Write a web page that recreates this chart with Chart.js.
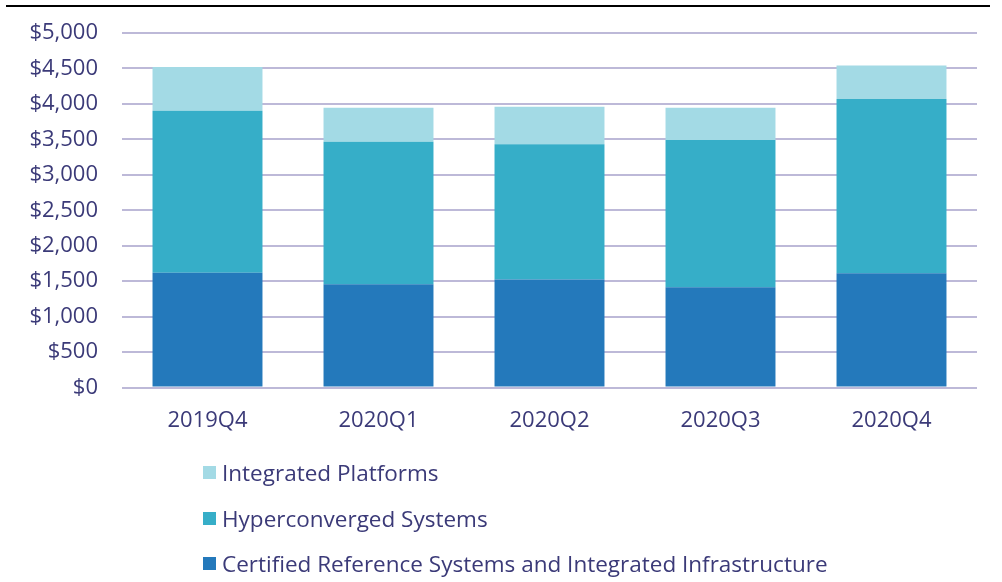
<!DOCTYPE html>
<html>
<head>
<meta charset="utf-8">
<script src="https://cdn.jsdelivr.net/npm/chart.js@4"></script>
<style>
  html, body { margin: 0; padding: 0; background: #fff; }
  #wrap { position: relative; width: 1002px; height: 582px; }
  #topRule { position: absolute; left: 6px; top: 5px; width: 984px; height: 2px; background: #000; }
  #myChart { position: absolute; left: 0; top: 0; }
  #legend { position: absolute; left: 203px; top: 450px; font-family: 'Open Sans', sans-serif; font-size: 22.5px; color: #3b3a78; }
  #legend div { height: 45.5px; line-height: 45.5px; white-space: nowrap; }
  #legend span.box { display: inline-block; width: 13px; height: 13px; margin-right: 6px; vertical-align: middle; position: relative; top: -2px; }
</style>
</head>
<body>
<div id="wrap">
  <div id="topRule"></div>
  <canvas id="myChart" width="1002" height="582"></canvas>
  <div id="legend"></div>
</div>
<script>
// quarters on the x axis
const quarters = ['2019Q4', '2020Q1', '2020Q2', '2020Q3', '2020Q4'];

// revenue per segment, $M (stacked bottom -> top)
const certifiedRef   = [1617, 1455, 1525, 1415, 1610];
const hyperconverged = [2287, 2010, 1905, 2075, 2458];
const integratedPlat = [ 616,  480,  530,  455,  472];

// y axis ticks
const yTicks = [0, 500, 1000, 1500, 2000, 2500, 3000, 3500, 4000, 4500, 5000];

const tickColor = '#3b3a78';
const gridColor = '#bdb9d8';

function drawChart() {
    let ctx = document.getElementById('myChart').getContext('2d');
    let myChart = new Chart(ctx, {
        type: 'bar',
        data: {
            labels: quarters,
            datasets: [
                { label: 'Certified Reference Systems and Integrated Infrastructure', data: certifiedRef, backgroundColor: '#2479bb' },
                { label: 'Hyperconverged Systems', data: hyperconverged, backgroundColor: '#36aec8' },
                { label: 'Integrated Platforms', data: integratedPlat, backgroundColor: '#a3dae5' }
            ]
        },
        options: {
            responsive: false,
            animation: false,
            layout: { padding: { top: 33, right: 25, bottom: 148, left: 0 } },
            datasets: { bar: { barPercentage: 0.643, categoryPercentage: 1 } },
            plugins: { legend: { display: false }, tooltip: { enabled: false } },
            scales: {
                x: {
                    stacked: true,
                    afterFit: scale => { scale.height = 46.5; },
                    grid: { display: false, drawTicks: false },
                    border: { display: false },
                    ticks: { color: tickColor, padding: 20, font: { family: 'Open Sans', size: 22 } }
                },
                y: {
                    stacked: true,
                    min: 0,
                    max: 5000,
                    afterFit: scale => { scale.width = 122; },
                    afterBuildTicks: scale => { scale.ticks = yTicks.map(v => ({ value: v })); },
                    // invisible tick marks keep the labels 24px off the grid
                    grid: { color: gridColor, lineWidth: 2, drawTicks: true, tickLength: 24, tickColor: 'rgba(0,0,0,0)' },
                    border: { display: false },
                    ticks: {
                        color: tickColor,
                        padding: 0,
                        font: { family: 'Open Sans', size: 22 },
                        callback: v => '$' + v.toLocaleString('en-US')
                    }
                }
            }
        }
    });

    // legend listed top -> bottom in reverse stack order
    const legend = document.getElementById('legend');
    myChart.data.datasets.slice().reverse().forEach(ds => {
        const row = document.createElement('div');
        const box = document.createElement('span');
        box.className = 'box';
        box.style.background = ds.backgroundColor;
        row.appendChild(box);
        row.appendChild(document.createTextNode(ds.label));
        legend.appendChild(row);
    });
}

document.fonts.load('22px "Open Sans"').then(drawChart, drawChart);
</script>
</body>
</html>
